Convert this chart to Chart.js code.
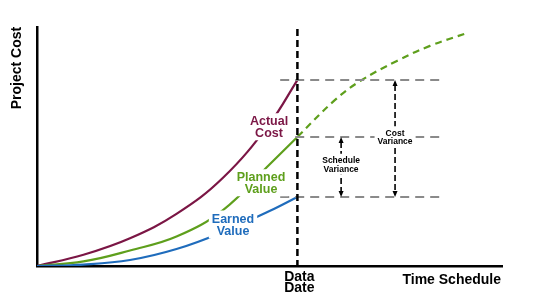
<!DOCTYPE html>
<html>
<head>
<meta charset="utf-8">
<script src="https://cdn.jsdelivr.net/npm/chart.js@4/dist/chart.umd.min.js"></script>
<style>
  html, body { margin: 0; padding: 0; background: #fff; }
  #wrap { width: 556px; height: 300px; }
</style>
</head>
<body>
<div id="wrap"><canvas id="chart" width="556" height="300"></canvas></div>
<script>
// ─────────────────────────────────────────────────
// Data (time 0-100, cost 0-100)
// ─────────────────────────────────────────────────
const dataDate = 56;

const actualX = [0, 10, 20, 30, 40, 50, 56];
const actualY = [0, 4.7, 11.6, 21.8, 36.9, 59.5, 77.8];

const plannedX = [0, 10, 20, 30, 40, 50, 56, 64.1, 69.5, 77.4, 84.5, 92.5];
const plannedY = [0, 1.9, 6.5, 12.3, 23.4, 42.5, 54.0, 69.5, 77.4, 85.8, 92.1, 97.5];

const earnedX = [0, 10, 20, 30, 40, 50, 56];
const earnedY = [0, 0.6, 2.5, 7.1, 14.2, 23.0, 28.9];

// variance guide positions (time units)
const guideFrom = 52.3, guideTo = 87.7;
const scheduleArrowX = 65.4, costArrowX = 77.0;

const COL_AC = '#7b1645', COL_PV = '#5e9f1c', COL_EV = '#1f6cbc';

const pts = (xs, ys) => xs.map((x, i) => ({ x, y: ys[i] }));
const lastY = ys => ys[ys.length - 1];
const pvAtDate = plannedY[plannedX.indexOf(dataDate)];

// ─────────────────────────────────────────────────
// Annotations plugin
// ─────────────────────────────────────────────────
function label(ctx, lines, cx, cy, gap, color, font) {
    ctx.font = font;
    ctx.textAlign = 'center'; ctx.textBaseline = 'middle';
    const w = Math.max(...lines.map(l => ctx.measureText(l).width));
    const h = gap * lines.length;
    ctx.fillStyle = '#fff';
    ctx.fillRect(cx - w / 2 - 3, cy - gap / 2 - 3, w + 6, h + 4);
    ctx.fillStyle = color;
    lines.forEach((l, i) => ctx.fillText(l, cx, cy + i * gap));
}

function arrowHead(ctx, x, y, dir) {
    ctx.beginPath();
    ctx.moveTo(x, y);
    ctx.lineTo(x - 2.5, y - dir * 6);
    ctx.lineTo(x + 2.5, y - dir * 6);
    ctx.closePath(); ctx.fill();
}

const evmNotes = {
    id: 'evmNotes',
    afterDatasetsDraw(chart) {
        const { ctx, scales: { x, y } } = chart;
        ctx.save();

        // horizontal guides
        ctx.strokeStyle = '#8a8a8a'; ctx.lineWidth = 2; ctx.setLineDash([9, 6]);
        [lastY(actualY), pvAtDate, lastY(earnedY)].forEach(v => {
            ctx.beginPath();
            ctx.moveTo(x.getPixelForValue(guideFrom), y.getPixelForValue(v));
            ctx.lineTo(x.getPixelForValue(guideTo), y.getPixelForValue(v));
            ctx.stroke();
        });

        // data date line
        const dx = x.getPixelForValue(dataDate);
        ctx.strokeStyle = '#000'; ctx.lineWidth = 2.5; ctx.setLineDash([7, 4]);
        ctx.beginPath(); ctx.moveTo(dx, y.getPixelForValue(99.2)); ctx.lineTo(dx, y.getPixelForValue(0)); ctx.stroke();

        // variance arrows
        ctx.lineWidth = 1.6; ctx.setLineDash([6, 3]); ctx.fillStyle = '#000';
        const arrow = (xv, top, bot) => {
            const ax = x.getPixelForValue(xv), t = y.getPixelForValue(top), b = y.getPixelForValue(bot);
            ctx.beginPath(); ctx.moveTo(ax, t + 5); ctx.lineTo(ax, b - 5); ctx.stroke();
            arrowHead(ctx, ax, t, -1); arrowHead(ctx, ax, b, 1);
        };
        arrow(scheduleArrowX, pvAtDate, lastY(earnedY));
        arrow(costArrowX, lastY(actualY), lastY(earnedY));
        ctx.setLineDash([]);

        const vf = 'bold 8.5px "Liberation Sans", Arial, sans-serif';
        label(ctx, ['Schedule', 'Variance'], x.getPixelForValue(scheduleArrowX), 161, 8.5, '#000', vf);
        label(ctx, ['Cost', 'Variance'], x.getPixelForValue(costArrowX), 133.5, 8.5, '#000', vf);

        // curve labels
        const cf = 'bold 12.5px "Liberation Sans", Arial, sans-serif';
        label(ctx, ['Actual', 'Cost'], 269, 122, 11.5, COL_AC, cf);
        label(ctx, ['Planned', 'Value'], 261, 178, 11.5, COL_PV, cf);
        label(ctx, ['Earned', 'Value'], 233, 219.5, 12, COL_EV, cf);

        // axis titles
        ctx.fillStyle = '#000';
        ctx.font = 'bold 14px "Liberation Sans", Arial, sans-serif';
        ctx.textBaseline = 'middle';
        ctx.textAlign = 'center';
        ctx.fillText('Data', dx + 2, 277);
        ctx.fillText('Date', dx + 2, 288);
        ctx.textAlign = 'right';
        ctx.fillText('Time Schedule', 501, 280);
        ctx.translate(17, 68); ctx.rotate(-Math.PI / 2);
        ctx.textAlign = 'center';
        ctx.fillText('Project Cost', 0, 0);

        ctx.restore();
    }
};

// ─────────────────────────────────────────────────
// Chart
// ─────────────────────────────────────────────────
const line = (data, color, extra) => Object.assign({
    data, borderColor: color, borderWidth: 2.2, pointRadius: 0,
    tension: 0.4, fill: false
}, extra || {});

new Chart(document.getElementById('chart'), {
    type: 'line',
    data: {
        datasets: [
            line(pts(earnedX, earnedY), COL_EV),
            line(pts(plannedX, plannedY), COL_PV, {
                segment: { borderDash: c => c.p0.parsed.x >= dataDate ? [7, 5] : undefined }
            }),
            line(pts(actualX, actualY), COL_AC)
        ]
    },
    options: {
        responsive: false, animation: false,
        layout: { padding: { left: 37, top: 27, right: 54, bottom: 34 } },
        plugins: { legend: { display: false }, tooltip: { enabled: false } },
        scales: {
            x: {
                type: 'linear', min: 0, max: 100,
                grid: { display: false }, ticks: { display: false },
                border: { display: true, color: '#000', width: 2.5 },
                afterFit: s => { s.height = 0; }
            },
            y: {
                min: 0, max: 100,
                grid: { display: false }, ticks: { display: false },
                border: { display: true, color: '#000', width: 2.5 },
                afterFit: s => { s.width = 0; }
            }
        }
    },
    plugins: [evmNotes]
});
</script>
</body>
</html>
